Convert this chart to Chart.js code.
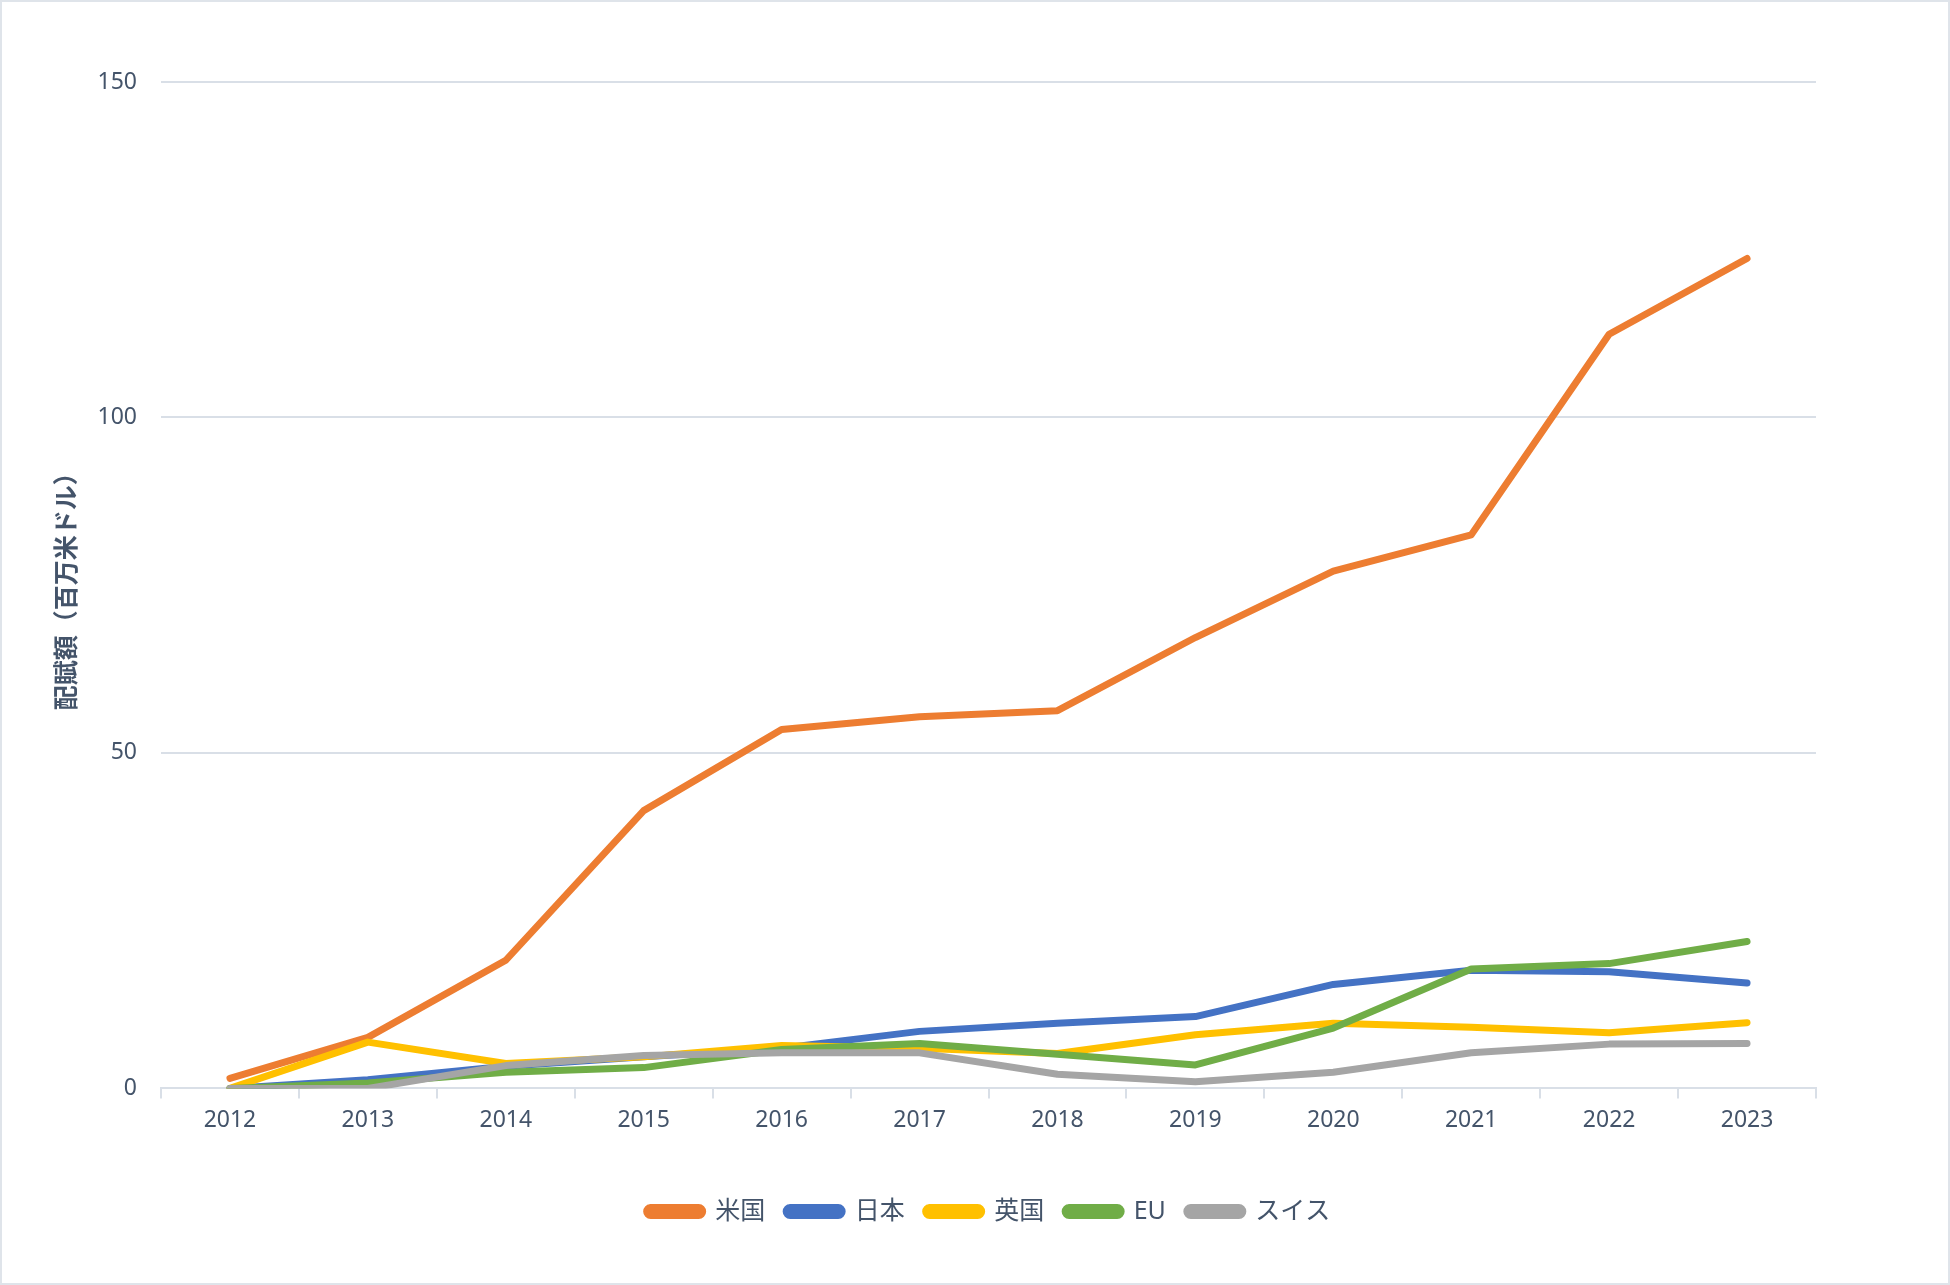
<!DOCTYPE html>
<html lang="ja">
<head>
<meta charset="utf-8">
<script src="https://cdn.jsdelivr.net/npm/chart.js@4/dist/chart.umd.min.js"></script>
<style>
  html, body { margin: 0; padding: 0; background: #fff; }
  #wrap { position: relative; width: 1950px; height: 1285px; }
  #frame { position: absolute; left: 0; top: 0; width: 1946px; height: 1281px; border: 2px solid #dfe4ea; pointer-events: none; }
</style>
</head>
<body>
<div id="wrap">
  <canvas id="allocChart" width="1950" height="1285"></canvas>
  <div id="frame"></div>
</div>
<script>
// 年（横軸）
const years = ['2012', '2013', '2014', '2015', '2016', '2017', '2018', '2019', '2020', '2021', '2022', '2023'];

// 各国の配賦額（百万米ドル）
const usValues = [1.5, 7.6, 19.1, 41.4, 53.5, 55.4, 56.3, 67.2, 77.1, 82.5, 112.4, 123.7];
const japanValues = [0, 1.3, 3.3, 4.7, 6.0, 8.5, 9.7, 10.7, 15.5, 17.6, 17.4, 15.7];
const ukValues = [0, 6.9, 3.7, 4.7, 6.4, 6.0, 5.2, 8.0, 9.7, 9.1, 8.3, 9.8];
const euValues = [0, 0.8, 2.4, 3.1, 5.8, 6.7, 5.1, 3.5, 9.0, 17.8, 18.6, 21.9];
const swissValues = [0, 0, 3.4, 4.9, 5.3, 5.3, 2.1, 1.0, 2.4, 5.3, 6.6, 6.7];

// 縦軸の目盛り
const yTicks = [0, 50, 100, 150];

const textColor = '#44546a';
const gridColor = '#d9dfe7';
const baseFont = "'Noto Sans', 'Noto Sans CJK JP', sans-serif";

// order: 後の系列ほど手前に描く（Excelと同じ重なり）
function makeSeries(label, data, color, order) {
  return {
    label: label,
    data: data,
    order: order,
    borderColor: color,
    backgroundColor: color,
    borderWidth: 7,
    borderCapStyle: 'round',
    borderJoinStyle: 'round',
    pointRadius: 0,
    pointHoverRadius: 0,
    tension: 0,
    fill: false
  };
}

// 凡例をプロット領域の中央にそろえる
const centerLegend = {
  id: 'centerLegend',
  beforeDraw(chart) {
    const legend = chart.legend;
    const area = chart.chartArea;
    if (!legend || !area) return;
    const shift = (area.left + area.right) / 2 - (legend.left + legend.right) / 2;
    legend.left += shift;
    legend.right += shift;
  }
};

const ctx = document.getElementById('allocChart');
const allocChart = new Chart(ctx, {
  type: 'line',
  data: {
    labels: years,
    datasets: [
      makeSeries('米国', usValues, '#ed7d31', 5),
      makeSeries('日本', japanValues, '#4472c4', 4),
      makeSeries('英国', ukValues, '#ffc000', 3),
      makeSeries('EU', euValues, '#70ad47', 2),
      makeSeries('スイス', swissValues, '#a5a5a5', 1)
    ]
  },
  plugins: [centerLegend],
  options: {
    responsive: false,
    animation: false,
    layout: {
      padding: { top: 82, right: 134, bottom: 51, left: 0 }
    },
    plugins: {
      legend: {
        position: 'bottom',
        labels: {
          color: textColor,
          font: { family: baseFont, size: 25 },
          boxWidth: 56,
          boxHeight: 8,
          useBorderRadius: true,
          borderRadius: 4,
          padding: 21,
          sort: (a, b) => a.datasetIndex - b.datasetIndex
        }
      },
      tooltip: { enabled: false }
    },
    scales: {
      x: {
        offset: true,
        afterFit: function(scale) {
          // 凡例との間隔をあける
          scale.height += 36;
        },
        grid: {
          offset: true,
          drawOnChartArea: false,
          drawTicks: true,
          tickLength: 10,
          color: gridColor,
          lineWidth: 2
        },
        border: { display: true, color: gridColor, width: 2 },
        ticks: {
          color: textColor,
          font: { family: baseFont, size: 23 },
          padding: 8,
          maxRotation: 0
        }
      },
      y: {
        min: 0,
        max: 150,
        afterBuildTicks: function(scale) {
          scale.ticks = yTicks.map(v => ({ value: v }));
        },
        afterFit: function(scale) {
          scale.width = 161;
        },
        grid: {
          color: gridColor,
          lineWidth: 2,
          drawTicks: false
        },
        border: { display: false },
        ticks: {
          color: textColor,
          font: { family: baseFont, size: 23 },
          padding: 24
        },
        title: {
          display: true,
          text: '配賦額（百万米ドル）',
          color: textColor,
          font: { family: baseFont, size: 25, weight: 'bold' },
          padding: { top: 53, bottom: 0 }
        }
      }
    }
  }
});
</script>
</body>
</html>
